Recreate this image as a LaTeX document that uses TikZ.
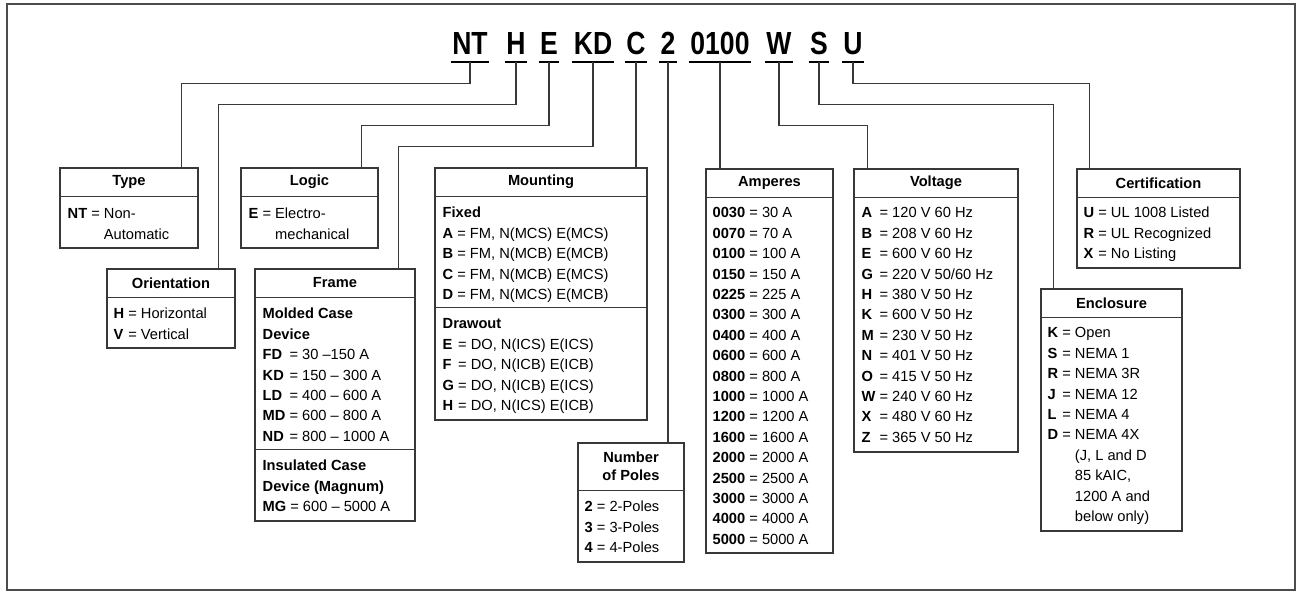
\documentclass[tikz,border=0pt]{standalone}
\usepackage{fontspec}
\setmainfont{Liberation Sans}
\newfontfamily\titlefont[FakeStretch=0.83]{Liberation Sans}
\usetikzlibrary{fit,calc}
\definecolor{linecol}{gray}{0.22}
\definecolor{outercol}{gray}{0.3}
\newcommand{\kc}{\multicolumn{3}{@{}l@{}}}
\begin{document}
\begin{tikzpicture}[x=0.75pt,y=-0.75pt,
  box/.style={draw=linecol, line width=0.9pt, inner sep=0pt},
  hdr/.style={font=\fontsize{11}{13.5}\selectfont\bfseries, align=center, inner sep=0pt},
  body/.style={font=\fontsize{11}{15.3}\selectfont, inner sep=0pt, anchor=north west},
  sepline/.style={draw=linecol, line width=0.9pt},
  conn/.style={draw=linecol, line width=0.8pt},
  uline/.style={draw=black, line width=1.6pt},
  code/.style={font=\titlefont\bfseries\fontsize{24}{28}\selectfont, anchor=base, inner xsep=1pt, inner ysep=5.25pt, text depth=0pt}
]
\useasboundingbox (0,0) rectangle (1296,591);
\node[draw=outercol, line width=1.5pt, inner sep=0pt, fit={(7,4) (1295,590)}] (outer) {};

% code
\node[code] (cNT) at (470,55) {NT};
\node[code] (cH) at (516,55) {H};
\node[code] (cE) at (549,55) {E};
\node[code] (cKD) at (593,55) {KD};
\node[code] (cC) at (636,55) {C};
\node[code] (c2) at (668,55) {2};
\node[code] (c0100) at (720,55) {0100};
\node[code] (cW) at (779,55) {W};
\node[code] (cS) at (819,55) {S};
\node[code] (cU) at (853,55) {U};
\foreach \n in {cNT,cH,cE,cKD,cC,c2,c0100,cW,cS,cU}
  \draw[uline] (\n.south west) -- (\n.south east);

% boxes
\node[box, fit={(60,168) (198,248)}] (type) {};
\node[box, fit={(107,269) (235,348)}] (orient) {};
\node[box, fit={(241,168) (378,248)}] (logic) {};
\node[box, fit={(255,269) (415,521)}] (frame) {};
\node[box, fit={(435,168) (647,420)}] (mount) {};
\node[box, fit={(578,443) (684,562)}] (poles) {};
\node[box, fit={(706,169) (833,553)}] (amps) {};
\node[box, fit={(854,169) (1018,452)}] (volt) {};
\node[box, fit={(1077,169) (1240,268)}] (cert) {};
\node[box, fit={(1041,289) (1182,531)}] (encl) {};

% header separators
\foreach \b in {type,orient,logic,frame,mount,amps,volt,cert,encl}
  \draw[sepline] ($(\b.north west)+(0,29)$) -- ($(\b.north east)+(0,29)$);
\draw[sepline] ($(poles.north west)+(0,48)$) -- ($(poles.north east)+(0,48)$);
\draw[sepline] ($(frame.north west)+(0,181)$) -- ($(frame.north east)+(0,181)$);
\draw[sepline] ($(mount.north west)+(0,140)$) -- ($(mount.north east)+(0,140)$);

% headers
\node[hdr] (typeH) at ($(type.north)+(0,14.5)$) {Type};
\node[hdr] (orientH) at ($(orient.north)+(0,14.5)$) {Orientation};
\node[hdr] (logicH) at ($(logic.north)+(0,14.5)$) {Logic};
\node[hdr] (frameH) at ($(frame.north)+(0,14.5)$) {Frame};
\node[hdr] (mountH) at ($(mount.north)+(0,14.5)$) {Mounting};
\node[hdr] (polesH) at ($(poles.north)+(0,24)$) {Number\\of Poles};
\node[hdr] (ampsH) at ($(amps.north)+(0,14.5)$) {Amperes};
\node[hdr] (voltH) at ($(volt.north)+(0,14.5)$) {Voltage};
\node[hdr] (certH) at ($(cert.north)+(0,14.5)$) {Certification};
\node[hdr] (enclH) at ($(encl.north)+(0,14.5)$) {Enclosure};

% bodies
\node[body] (typeB) at ($(type.north west)+(8,37)$) {\begin{tabular}{@{}l@{\ }l@{\ }l@{}}
\textbf{NT} & = & Non-\\ & & Automatic\end{tabular}};
\node[body] (orientB) at ($(orient.north west)+(7,36)$) {\begin{tabular}{@{}l@{\ }l@{\ }l@{}}
\textbf{H} & = & Horizontal\\ \textbf{V} & = & Vertical\end{tabular}};
\node[body] (logicB) at ($(logic.north west)+(8,37)$) {\begin{tabular}{@{}l@{\ }l@{\ }l@{}}
\textbf{E} & = & Electro-\\ & & mechanical\end{tabular}};
\node[body] (frameB1) at ($(frame.north west)+(8,36)$) {\begin{tabular}{@{}l@{\ }l@{\ }l@{}}
\kc{\textbf{Molded Case}}\\
\kc{\textbf{Device}}\\
\textbf{FD} & = & 30 –150 A\\
\textbf{KD} & = & 150 – 300 A\\
\textbf{LD} & = & 400 – 600 A\\
\textbf{MD} & = & 600 – 800 A\\
\textbf{ND} & = & 800 – 1000 A\end{tabular}};
\node[body] (frameB2) at ($(frame.north west)+(8,188)$) {\begin{tabular}{@{}l@{\ }l@{\ }l@{}}
\kc{\textbf{Insulated Case}}\\
\kc{\textbf{Device (Magnum)}}\\
\textbf{MG} & = & 600 – 5000 A\end{tabular}};
\node[body] (mountB1) at ($(mount.north west)+(8,36)$) {\begin{tabular}{@{}l@{\ }l@{\ }l@{}}
\kc{\textbf{Fixed}}\\
\textbf{A} & = & FM, N(MCS) E(MCS)\\
\textbf{B} & = & FM, N(MCB) E(MCB)\\
\textbf{C} & = & FM, N(MCB) E(MCS)\\
\textbf{D} & = & FM, N(MCS) E(MCB)\end{tabular}};
\node[body] (mountB2) at ($(mount.north west)+(8,147)$) {\begin{tabular}{@{}l@{\ }l@{\ }l@{}}
\kc{\textbf{Drawout}}\\
\textbf{E} & = & DO, N(ICS) E(ICS)\\
\textbf{F} & = & DO, N(ICB) E(ICB)\\
\textbf{G} & = & DO, N(ICB) E(ICS)\\
\textbf{H} & = & DO, N(ICS) E(ICB)\end{tabular}};
\node[body] (polesB) at ($(poles.north west)+(7,55)$) {\begin{tabular}{@{}l@{\ }l@{\ }l@{}}
\textbf{2} & = & 2-Poles\\
\textbf{3} & = & 3-Poles\\
\textbf{4} & = & 4-Poles\end{tabular}};
\node[body] (ampsB) at ($(amps.north west)+(7,35)$) {\begin{tabular}{@{}l@{\ }l@{\ }l@{}}
\textbf{0030} & = & 30 A\\
\textbf{0070} & = & 70 A\\
\textbf{0100} & = & 100 A\\
\textbf{0150} & = & 150 A\\
\textbf{0225} & = & 225 A\\
\textbf{0300} & = & 300 A\\
\textbf{0400} & = & 400 A\\
\textbf{0600} & = & 600 A\\
\textbf{0800} & = & 800 A\\
\textbf{1000} & = & 1000 A\\
\textbf{1200} & = & 1200 A\\
\textbf{1600} & = & 1600 A\\
\textbf{2000} & = & 2000 A\\
\textbf{2500} & = & 2500 A\\
\textbf{3000} & = & 3000 A\\
\textbf{4000} & = & 4000 A\\
\textbf{5000} & = & 5000 A\end{tabular}};
\node[body] (voltB) at ($(volt.north west)+(8,35)$) {\begin{tabular}{@{}l@{\ }l@{\ }l@{}}
\textbf{A} & = & 120 V 60 Hz\\
\textbf{B} & = & 208 V 60 Hz\\
\textbf{E} & = & 600 V 60 Hz\\
\textbf{G} & = & 220 V 50/60 Hz\\
\textbf{H} & = & 380 V 50 Hz\\
\textbf{K} & = & 600 V 50 Hz\\
\textbf{M} & = & 230 V 50 Hz\\
\textbf{N} & = & 401 V 50 Hz\\
\textbf{O} & = & 415 V 50 Hz\\
\textbf{W} & = & 240 V 60 Hz\\
\textbf{X} & = & 480 V 60 Hz\\
\textbf{Z} & = & 365 V 50 Hz\end{tabular}};
\node[body] (certB) at ($(cert.north west)+(7,35)$) {\begin{tabular}{@{}l@{\ }l@{\ }l@{}}
\textbf{U} & = & UL 1008 Listed\\
\textbf{R} & = & UL Recognized\\
\textbf{X} & = & No Listing\end{tabular}};
\node[body] (enclB) at ($(encl.north west)+(7,35)$) {\begin{tabular}{@{}l@{\ }l@{\ }l@{}}
\textbf{K} & = & Open\\
\textbf{S} & = & NEMA 1\\
\textbf{R} & = & NEMA 3R\\
\textbf{J} & = & NEMA 12\\
\textbf{L} & = & NEMA 4\\
\textbf{D} & = & NEMA 4X\\
 & & (J, L and D\\
 & & 85 kAIC,\\
 & & 1200 A and\\
 & & below only)\end{tabular}};

% connectors
\draw[conn] (cNT.south) -- ++(0,21) -| ($(type.north west)+(122,0)$);
\draw[conn] (cH.south) -- ++(0,42) -| ($(orient.north west)+(112,0)$);
\draw[conn] (cE.south) -- ++(0,63) -| ($(logic.north west)+(121,0)$);
\draw[conn] (cKD.south) -- ++(0,84) -| ($(frame.north west)+(144,0)$);
\draw[conn] (cC.south) -- (cC.south |- mount.north);
\draw[conn] (c2.south) -- (c2.south |- poles.north);
\draw[conn] (c0100.south) -- (c0100.south |- amps.north);
\draw[conn] (cW.south) -- ++(0,63) -| ($(volt.north west)+(14,0)$);
\draw[conn] (cS.south) -- ++(0,42) -| ($(encl.north west)+(13,0)$);
\draw[conn] (cU.south) -- ++(0,21) -| ($(cert.north west)+(13,0)$);
\end{tikzpicture}
\end{document}
